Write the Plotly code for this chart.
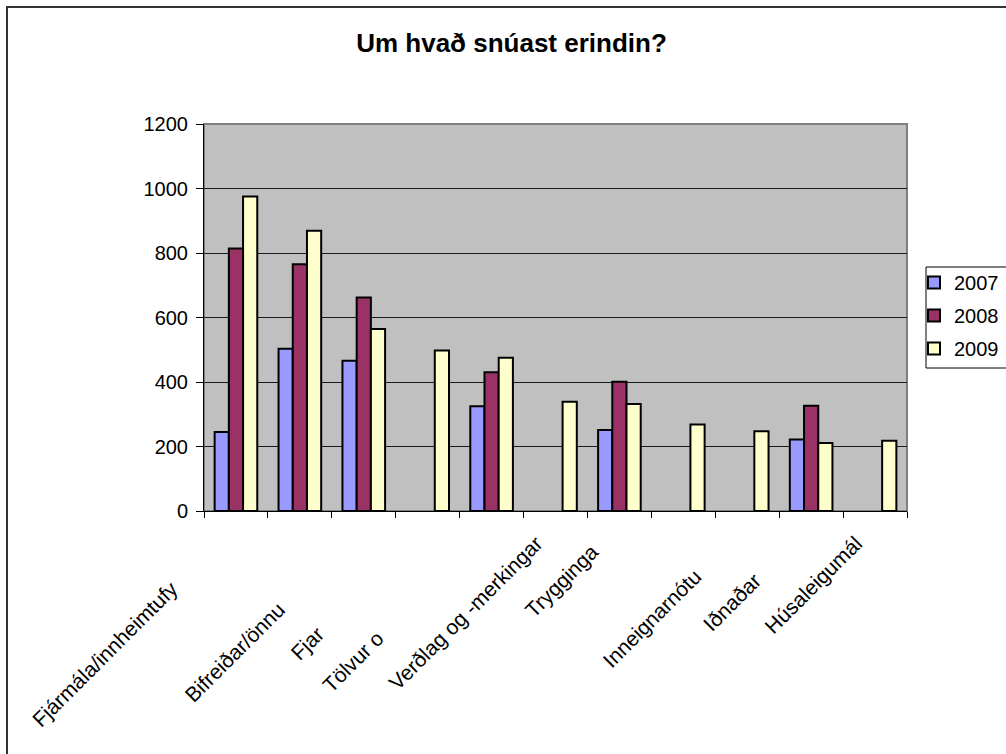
import plotly.graph_objects as go

# Category tick labels (two categories carry no label)
labels = [
    "Fjármála/innheimtufy",
    "",
    "Bifreiðar/önnu",
    "Fjar",
    "Tölvur o",
    "Verðlag og -merkingar",
    "Trygginga",
    "",
    "Inneignarnótu",
    "Iðnaðar",
    "Húsaleigumál",
]
# trailing padding (non-breaking spaces) per label
label_pad = [11, 0, 16, 22, 23, 0, 2, 0, 8, 9, 0]

years = ["2007", "2008", "2009"]
v2007 = [245, 503, 466, None, 325, None, 251, None, None, 222, None]
v2008 = [814, 765, 662, None, 430, None, 401, None, None, 326, None]
v2009 = [975, 869, 564, 498, 475, 339, 332, 268, 247, 211, 218]
colors = ["#9999FF", "#993366", "#FFFFCC"]

y_ticks = [0, 200, 400, 600, 800, 1000, 1200]

FONT = "Liberation Sans, Arial, sans-serif"
W, H = 1006, 754
L, R, T, B = 204, 907, 124, 511

pos = list(range(len(labels)))
fig = go.Figure()
for name, vals, col in zip(years, [v2007, v2008, v2009], colors):
    fig.add_trace(go.Bar(
        x=pos, y=vals, name=name, legendgroup=name,
        marker=dict(color=col, line=dict(color="#000000", width=2)),
    ))

ticktext = [lab + "\u00a0" * p for lab, p in zip(labels, label_pad)]

pw, ph = R - L, B - T
def px_x(v):
    return (v - L) / pw
def px_y(v):
    return (B - v) / ph

fig.update_layout(
    width=W, height=H,
    margin=dict(l=L, r=W - R, t=T, b=H - B, autoexpand=False),
    paper_bgcolor="white",
    plot_bgcolor="#C0C0C0",
    barmode="group",
    bargap=0.333,
    bargroupgap=0,
    font=dict(family=FONT, size=20, color="#000000"),
    title=dict(
        text="<b>Um hvað snúast erindin?</b>",
        font=dict(family=FONT, size=26, color="#000000"),
        x=511.5 / W, xref="container", xanchor="center",
        y=1 - 43 / H, yref="container", yanchor="middle",
    ),
    xaxis=dict(
        range=[-0.5, len(labels) - 0.5],
        tickmode="array", tickvals=pos, ticktext=ticktext,
        tickangle=-45, ticks="", showgrid=False, zeroline=False,
        showline=True, linecolor="#000000", linewidth=1,
        tickfont=dict(family=FONT, size=21, color="#000000"),
        ticklabelshift=-19, ticklabelstandoff=11,
        automargin=False,
        minor=dict(
            tickmode="array",
            tickvals=[i - 0.5 for i in range(len(labels) + 1)],
            ticks="outside", ticklen=6, tickcolor="#000000", tickwidth=1,
            showgrid=False,
        ),
    ),
    yaxis=dict(
        range=[0, 1200],
        tickmode="array", tickvals=y_ticks,
        ticks="outside", ticklen=7, tickcolor="#000000", tickwidth=1,
        ticklabelstandoff=4,
        showline=True, linecolor="#000000", linewidth=1,
        showgrid=True, gridcolor="#1a1a1a", gridwidth=1,
        zeroline=False, automargin=False,
        tickfont=dict(family=FONT, size=20, color="#000000"),
    ),
    legend=dict(
        x=px_x(914), xanchor="left",
        y=px_y(263), yanchor="top",
        bgcolor="rgba(0,0,0,0)", borderwidth=0,
        font=dict(family=FONT, size=20, color="#000000"),
        traceorder="grouped", tracegroupgap=4,
        itemwidth=30,
    ),
    shapes=[
        # plot area frame (top and right edges show in grey)
        dict(type="rect", xref="paper", yref="paper",
             x0=0, x1=1, y0=0, y1=1,
             line=dict(color="#808080", width=2), layer="below"),
        # outer chart border
        dict(type="rect", xref="paper", yref="paper",
             x0=px_x(7), x1=px_x(1012), y0=px_y(760), y1=px_y(7),
             line=dict(color="#333333", width=2), layer="below"),
        # legend frame
        dict(type="rect", xref="paper", yref="paper",
             x0=px_x(926), x1=px_x(1012), y0=px_y(368), y1=px_y(267),
             line=dict(color="#000000", width=1), fillcolor="white",
             layer="above"),
    ],
)

fig.write_html("out.html")
